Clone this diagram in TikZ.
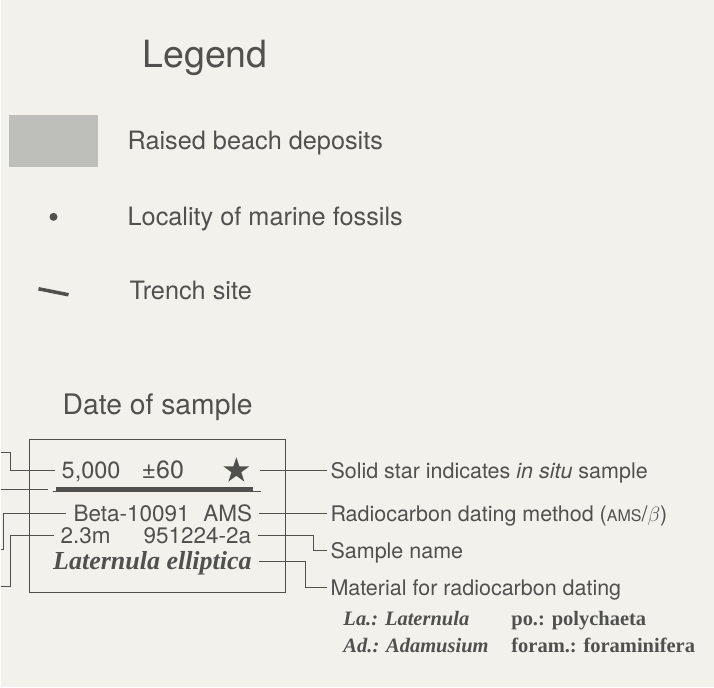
\documentclass[tikz,border=0pt]{standalone}
\usepackage{fontspec}
\setmainfont{TeX Gyre Heros}
\newfontfamily\serifbook{Liberation Serif}
\usetikzlibrary{shapes.geometric}

\begin{document}
\begin{tikzpicture}[x=1pt,y=-1pt]

	% Styles
	\tikzset{
		item/.style={
			anchor=base west, inner sep=0pt, text=ink,
			font=\fontsize{25.3}{28}\selectfont,
		},
		heading/.style={
			anchor=base west, inner sep=0pt, text=ink,
		},
		row/.style={
			inner xsep=7pt, inner ysep=0pt, text=ink,
			text height=16pt, text depth=0pt,
			font=\fontsize{22.5}{26}\selectfont,
		},
		note/.style={
			anchor=west, inner xsep=3pt, inner ysep=0pt, text=ink,
			text height=15pt, text depth=0pt,
			font=\fontsize{21.5}{25}\selectfont,
		},
		abbr/.style={
			anchor=base west, inner sep=0pt, text=ink,
			font=\serifbook\bfseries\fontsize{20.5}{24}\selectfont,
		},
		link/.style={
			draw=ink, line width=1.1pt,
		}
	}

	% Colors
	\definecolor{ink}{RGB}{80,80,78}
	\definecolor{paper}{RGB}{242,241,236}
	\definecolor{sand}{RGB}{190,190,187}

	% Background
	\fill[paper] (0,0) rectangle (714,688);

	% Legend title
	\node[heading, font=\fontsize{37.5}{40}\selectfont] (legend) at (142,68) {Legend};

	% Legend items
	\node[fill=sand, minimum width=90pt, minimum height=52pt, inner sep=0pt] (beach) at (53,141) {};
	\node[item] (beachtxt) at (127,150) {Raised beach deposits};
	\node[circle, fill=ink, minimum size=8pt, inner sep=0pt] (fossil) at (53,217) {};
	\node[item] (fossiltxt) at (127,225.5) {Locality of marine fossils};
	\draw[ink, line width=3.5pt] (38,289) -- (68,295);
	\node[item] (trenchtxt) at (129,300) {Trench site};

	% Date of sample card
	\node[heading, font=\fontsize{28.3}{32}\selectfont] (datehead) at (62,415) {Date of sample};
	\node[draw=ink, line width=1.1pt, minimum width=256pt, minimum height=153pt] (card) at (157,516.5) {};

	% Rows inside the card
	\node[row, anchor=west, font=\fontsize{23.5}{26}\selectfont] (age) at (54,471) {5,000};
	\node[row, anchor=west, font=\fontsize{25}{28}\selectfont] (err) at (134,471) {±60};
	\node[star, star points=5, star point ratio=2.6, fill=ink, minimum size=27pt, inner sep=0pt] (solid) at (236,471) {};
	\draw[ink, line width=3.5pt] (55,489.5) -- (253,489.5);
	\draw[link] (52,492) -- (261,492);
	\node[row, anchor=west] (lab) at (66,514) {Beta-10091};
	\node[row, anchor=east] (method) at (259,514) {AMS};
	\node[row, anchor=west] (depth) at (53,536) {2.3m};
	\node[row, anchor=east] (sample) at (258,536) {951224-2a};
	\node[row, font=\serifbook\bfseries\itshape\fontsize{26}{30}\selectfont] (species) at (152,562) {Laternula elliptica};

	% Explanations (right)
	\node[note] (insitu) at (327,471) {Solid star indicates \textit{in situ} sample};
	\node[note] (methodtxt) at (327,514) {Radiocarbon dating method ({\fontsize{16}{18}\selectfont AMS}/$\beta$)};
	\node[note] (sampletxt) at (327,551) {Sample name};
	\node[note] (materialtxt) at (327,588) {Material for radiocarbon dating};

	% Connectors to the right
	\draw[link] ([xshift=24pt]solid.center) -- (insitu.west);
	\draw[link] (method.east) -- (methodtxt.west);
	\draw[link] (sample.east) -| ([xshift=-14pt]sampletxt.west) -- (sampletxt.west);
	\draw[link] (species.east) -| ([xshift=-22pt]materialtxt.west) -- (materialtxt.west);

	% Connectors running off to the left
	\coordinate (in1) at (0,453);
	\coordinate (in2) at (0,490);
	\coordinate (in3) at (0,550);
	\coordinate (in4) at (0,587);
	\draw[link] (in1) -- ++(10,0) |- (age.west);
	\draw[link] (in2) -- ++(47,0);
	\draw[link] (in3) -- ++(3,0) |- (lab.west);
	\draw[link] (in4) -- ++(10,0) |- (depth.west);

	% Abbreviations
	\node[abbr] (la) at (343,626) {\itshape La.: Laternula};
	\node[abbr] (po) at (511,626) {po.: polychaeta};
	\node[abbr] (ad) at (343,653) {\itshape Ad.: Adamusium};
	\node[abbr] (foram) at (511,653) {foram.: foraminifera};

\end{tikzpicture}
\end{document}
